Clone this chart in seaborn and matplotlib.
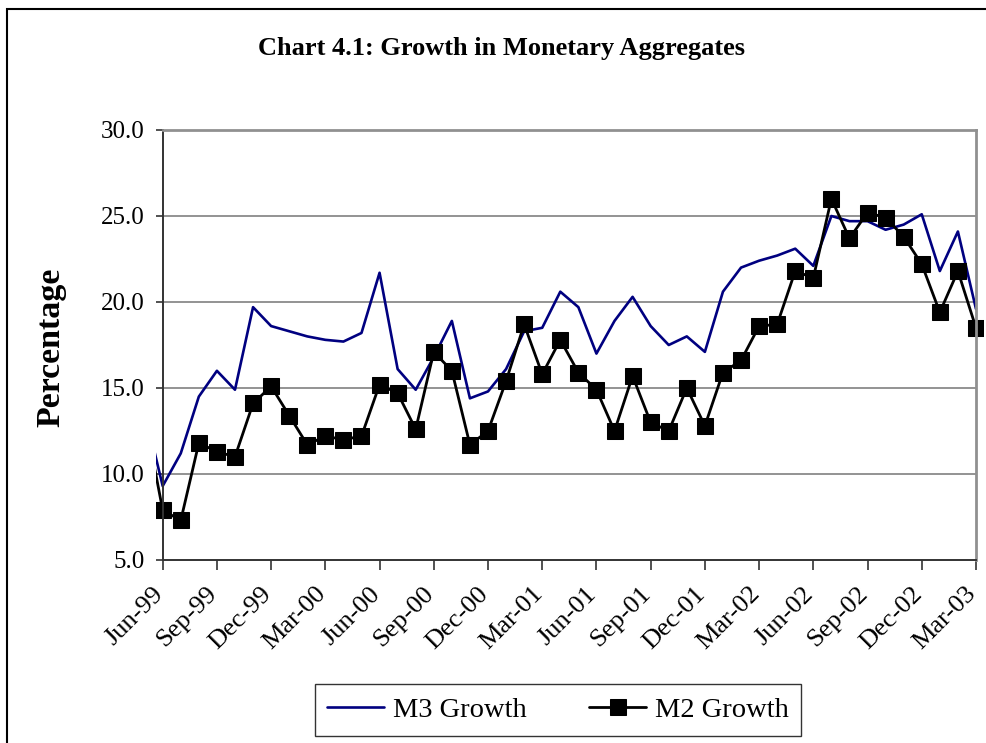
import pandas as pd
import matplotlib.pyplot as plt
import seaborn as sns
from matplotlib.patches import Rectangle
from matplotlib.transforms import ScaledTranslation

# Monthly growth rates (%), May-99 to Mar-03 (May-99 only shows as a clipped stub)
months = pd.date_range("1999-05-01", periods=47, freq="MS")
m3_growth = [13.7, 9.3, 11.2, 14.5, 16.0, 14.9, 19.7, 18.6,
             18.3, 18.0, 17.8, 17.7, 18.2, 21.7, 16.1, 14.9, 16.8, 18.9, 14.4, 14.8,
             16.1, 18.3, 18.5, 20.6, 19.7, 17.0, 18.9, 20.3, 18.6, 17.5, 18.0, 17.1,
             20.6, 22.0, 22.4, 22.7, 23.1, 22.1, 25.0, 24.7, 24.7, 24.2, 24.5, 25.1,
             21.8, 24.1, 19.6]
m2_growth = [13.4, 7.9, 7.3, 11.8, 11.3, 11.0, 14.1, 15.1,
             13.4, 11.7, 12.2, 12.0, 12.2, 15.2, 14.7, 12.6, 17.1, 16.0, 11.7, 12.5,
             15.4, 18.7, 15.8, 17.8, 15.9, 14.9, 12.5, 15.7, 13.0, 12.5, 15.0, 12.8,
             15.9, 16.6, 18.6, 18.7, 21.8, 21.4, 26.0, 23.7, 25.2, 24.9, 23.8, 22.2,
             19.4, 21.8, 18.5]
tick_labels = ["Jun-99", "Sep-99", "Dec-99", "Mar-00", "Jun-00", "Sep-00", "Dec-00",
               "Mar-01", "Jun-01", "Sep-01", "Dec-01", "Mar-02", "Jun-02", "Sep-02",
               "Dec-02", "Mar-03"]
y_ticks = [5, 10, 15, 20, 25, 30]

df = pd.DataFrame({"month": months, "M3 Growth": m3_growth, "M2 Growth": m2_growth})
df["pos"] = range(len(df))

sns.set_style("white")
plt.rcParams["font.family"] = ["Liberation Serif", "DejaVu Serif"]
plt.rcParams["text.color"] = "black"
plt.rcParams["xtick.color"] = "black"
plt.rcParams["ytick.color"] = "black"

fig = plt.figure(figsize=(9.86, 7.43), dpi=100)
ax = fig.add_axes([156 / 986, 1 - 560 / 743, 827.2 / 986, 430 / 743])

# gridlines only between the axes
ax.hlines(y_ticks[1:-1], 1, 46, color="#808080", lw=1.2, zorder=0)

sns.lineplot(data=df, x="pos", y="M3 Growth", color="#000080", lw=1.9,
             ax=ax, label="M3 Growth")
sns.lineplot(data=df, x="pos", y="M2 Growth", color="black", lw=2.0,
             marker="s", markersize=11, markeredgecolor="black",
             ax=ax, label="M2 Growth")

ax.set_xlim(0.63, 46.4)
ax.set_ylim(5, 30)
ax.set_xticks(range(1, 47, 3))
ax.set_xticklabels(tick_labels, rotation=45, ha="right", va="center",
                   rotation_mode="anchor")
ax.set_yticks(y_ticks)
ax.set_yticklabels([f"{v:.1f}" for v in y_ticks])
ax.set_xlabel("")
ax.set_ylabel("")
ax.tick_params(axis="x", labelsize=19, direction="out", length=7, width=1.2,
               pad=15, bottom=True, color="#333333")
ax.tick_params(axis="y", labelsize=18, direction="out", length=5, width=1.2,
               pad=8, left=True, color="#333333")
shift = ScaledTranslation(-3 / 100, 0, fig.dpi_scale_trans)
for lab in ax.get_xticklabels():
    lab.set_transform(lab.get_transform() + shift)

ax.spines["left"].set_position(("data", 1))
ax.spines["left"].set_color("#333333")
ax.spines["left"].set_linewidth(1.4)
ax.spines["bottom"].set_bounds(1, 46)
ax.spines["bottom"].set_color("#333333")
ax.spines["bottom"].set_linewidth(1.4)
ax.spines["top"].set_bounds(1, 46)
ax.spines["top"].set_color("#909090")
ax.spines["top"].set_linewidth(2)
ax.spines["right"].set_position(("data", 46))
ax.spines["right"].set_color("#909090")
ax.spines["right"].set_linewidth(2)

leg = ax.legend(loc="center", bbox_to_anchor=(558 / 986, 1 - 710 / 743),
                bbox_transform=fig.transFigure, ncol=2, fontsize=20.5,
                frameon=True, fancybox=False, handlelength=2.0,
                columnspacing=2.2, handletextpad=0.3, borderpad=0.45)
leg.get_frame().set_edgecolor("black")
leg.get_frame().set_linewidth(1.0)

fig.text(501 / 986, 1 - 48 / 743, "Chart 4.1: Growth in Monetary Aggregates",
         ha="center", va="center", fontsize=19, fontweight="bold")
fig.text(51 / 986, 1 - 347 / 743, "Percentage", rotation=90,
         ha="center", va="center", fontsize=24.5, fontweight="bold")

# outer chart border (cut off at right and bottom in the original)
fig.patches.append(Rectangle((7 / 986, -0.1), 1.2, 1.1 - 9 / 743,
                             transform=fig.transFigure, fill=False,
                             lw=1.5, ec="black"))

plt.savefig("out.png", dpi=100)
